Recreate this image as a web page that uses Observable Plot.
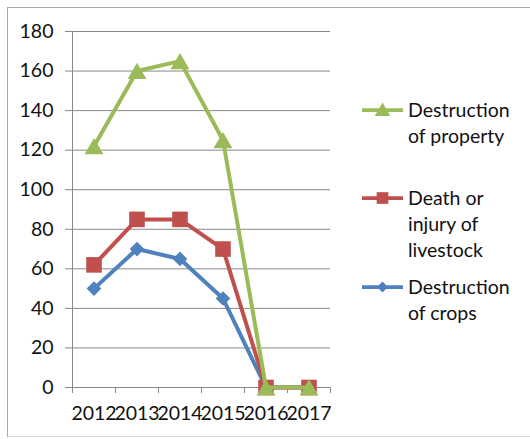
<!DOCTYPE html>
<html>
<head>
<meta charset="utf-8">
<script src="https://cdn.jsdelivr.net/npm/d3@7"></script>
<script src="https://cdn.jsdelivr.net/npm/@observablehq/plot@0.6"></script>
<style>
  body { margin: 0; background: #fff; }
  #wrap { position: relative; width: 530px; height: 439px; overflow: hidden; font-family: Lato, "Open Sans", sans-serif; color: #111; }
  #frame { position: absolute; left: 7px; top: 7px; width: 600px; height: 430px; box-sizing: border-box;
           border: 1.5px solid #a8a8a8; border-bottom: 1px solid #d4d4d4; }
  #chart { position: absolute; left: 0; top: 0; }
  .sw { position: absolute; left: 360px; width: 46px; height: 20px; }
  .lt { position: absolute; left: 408px; font-size: 19.5px; line-height: 26px; white-space: nowrap; }
</style>
</head>
<body>
<div id="wrap">
  <div id="frame"></div>
  <div id="chart"></div>
  <div id="legend"></div>
</div>
<script>
// ---- data ----
const years = ["2012", "2013", "2014", "2015", "2016", "2017"];
const crops = [50, 70, 65, 45, 0, 0];
const livestock = [62, 85, 85, 70, 0, 0];
const property = [122, 160, 165, 125, 0, 0];
const seriesNames = ["Destruction of crops", "Death or injury of livestock", "Destruction of property"];
const legendLines = [["Destruction", "of crops"], ["Death or", "injury of", "livestock"], ["Destruction", "of property"]];
const seriesColors = ["#4F81BD", "#C0504D", "#9BBB59"];
const seriesSymbols = ["diamond2", "square", "triangle"];
const yTicks = [0, 20, 40, 60, 80, 100, 120, 140, 160, 180];

const seriesValues = [crops, livestock, property];
const rows = seriesValues.map((vals, s) =>
  years.map((yr, i) => ({ i, year: yr, value: vals[i], series: seriesNames[s] })));

const dotR = [6.6, 8.8, 7];
const dotDy = [0, 0, 2.6];
const gridColor = "#888888";
const textColor = "#111111";
const idx = years.map((_, i) => i);
const bounds = [...idx.map(i => i - 0.5), years.length - 0.5];

const seriesMarks = seriesValues.flatMap((_, s) => [
  Plot.line(rows[s], { x: "i", y: "value", stroke: seriesColors[s], strokeWidth: 4, strokeLinejoin: "round", strokeLinecap: "round" }),
  Plot.dot(rows[s], { x: "i", y: "value", symbol: seriesSymbols[s], fill: seriesColors[s], stroke: "none", r: dotR[s], dy: dotDy[s] })
]);

const chart = Plot.plot({
  width: 530,
  height: 439,
  marginLeft: 72,
  marginRight: 200,
  marginTop: 31,
  marginBottom: 52,
  style: { fontFamily: "Lato, 'Open Sans', sans-serif", fontSize: "19.5px", color: textColor, background: "transparent", overflow: "visible" },
  x: { type: "linear", domain: [-0.5, years.length - 0.5] },
  y: { domain: [0, 180] },
  marks: [
    Plot.gridY(yTicks, { stroke: gridColor, strokeOpacity: 1, strokeWidth: 1 }),
    Plot.ruleX([-0.5], { y1: 0, y2: 180, stroke: gridColor, strokeWidth: 1 }),
    Plot.axisY(yTicks, { tickSize: 7, tickPadding: 12, stroke: gridColor, fill: textColor, label: null, tickFormat: d => String(d) }),
    Plot.axisX(bounds, { tickSize: 6, tickFormat: () => "", stroke: gridColor, label: null }),
    Plot.axisX(idx, { tickSize: 0, tickPadding: 19, tickFormat: i => years[i], fill: textColor, label: null }),
    ...seriesMarks
  ]
});
document.getElementById("chart").appendChild(chart);

// ---- legend (top to bottom: property, livestock, crops) ----
const legend = document.getElementById("legend");
const legendCenters = [287, 198, 110];
const legendR = [5, 6.6, 5.8];
seriesNames.forEach((name, s) => {
  const cy = legendCenters[s];
  const sw = document.createElementNS("http://www.w3.org/2000/svg", "svg");
  sw.setAttribute("class", "sw");
  sw.setAttribute("width", 46);
  sw.setAttribute("height", 20);
  sw.style.top = (cy - 10) + "px";
  const ln = document.createElementNS("http://www.w3.org/2000/svg", "line");
  ln.setAttribute("x1", 2); ln.setAttribute("x2", 43); ln.setAttribute("y1", 10); ln.setAttribute("y2", 10);
  ln.setAttribute("stroke", seriesColors[s]); ln.setAttribute("stroke-width", 3.75);
  sw.appendChild(ln);
  const symMap = { diamond2: d3.symbolDiamond2, square: d3.symbolSquare, triangle: d3.symbolTriangle };
  const p = document.createElementNS("http://www.w3.org/2000/svg", "path");
  p.setAttribute("d", d3.symbol(symMap[seriesSymbols[s]], Math.PI * legendR[s] * legendR[s])());
  p.setAttribute("transform", `translate(22.5,${10 + (s === 2 ? 1.5 : 0)})`);
  p.setAttribute("fill", seriesColors[s]);
  sw.appendChild(p);
  legend.appendChild(sw);
  const t = document.createElement("div");
  t.className = "lt";
  t.style.top = (cy - 13) + "px";
  t.innerHTML = legendLines[s].join("<br>");
  legend.appendChild(t);
});
</script>
</body>
</html>
